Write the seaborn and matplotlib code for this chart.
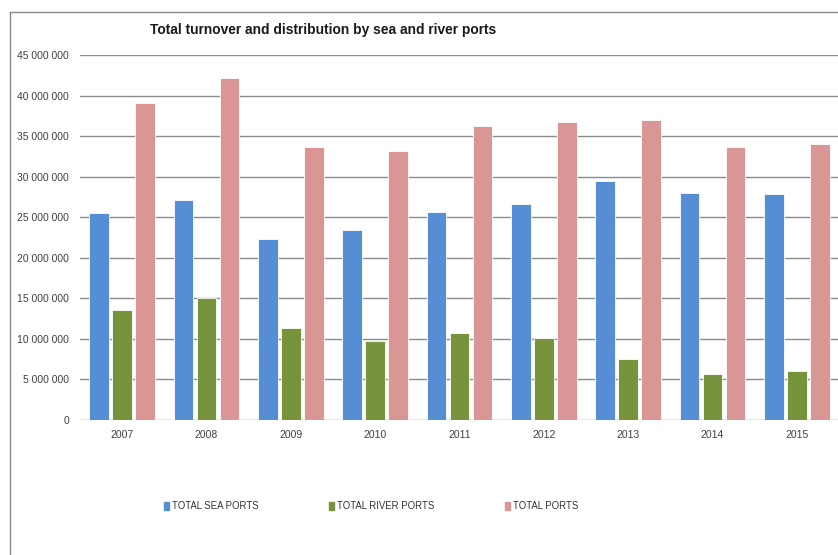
import pandas as pd
import seaborn as sns
import matplotlib.pyplot as plt
from matplotlib.lines import Line2D
from matplotlib.ticker import FuncFormatter, MultipleLocator

years = ['2007', '2008', '2009', '2010', '2011', '2012', '2013', '2014', '2015']
sea_ports = [25500000, 27150000, 22300000, 23400000, 25600000, 26650000, 29500000, 27950000, 27870000]
river_ports = [13560000, 15000000, 11400000, 9780000, 10700000, 10150000, 7480000, 5670000, 6080000]
total_ports = [39050000, 42200000, 33600000, 33200000, 36300000, 36750000, 37000000, 33660000, 34000000]

series_names = ['TOTAL SEA PORTS', 'TOTAL RIVER PORTS', 'TOTAL PORTS']
colors = ['#558ED5', '#77933C', '#D99694']

# long form table for seaborn
df = pd.DataFrame({
    'year': years * 3,
    'series': [series_names[0]] * 9 + [series_names[1]] * 9 + [series_names[2]] * 9,
    'value': sea_ports + river_ports + total_ports,
})

sns.set_style('white')
plt.rcParams['font.family'] = ['Liberation Sans', 'DejaVu Sans']

fig = plt.figure(figsize=(8.38, 5.55), dpi=100)
ax = fig.add_axes([80 / 838, 1 - 420 / 555, 759 / 838, 365 / 555])

sns.barplot(data=df, x='year', y='value', hue='series', palette=colors, saturation=1,
            width=0.82, gap=0.15, edgecolor='white', linewidth=0.6,
            ax=ax, legend=False)

ax.set_ylim(0, 45000000)
ax.set_xlim(-0.5, len(years) - 0.5)
ax.yaxis.set_major_locator(MultipleLocator(5000000))
ax.yaxis.set_major_formatter(FuncFormatter(lambda v, p: f'{v:,.0f}'.replace(',', ' ')))
ax.grid(axis='y', color='#8c8c8c', linewidth=1.0)
ax.set_axisbelow(True)
for s in ax.spines.values():
    s.set_visible(False)
ax.set_xlabel('')
ax.set_ylabel('')
ax.tick_params(axis='both', length=0, labelsize=7.5, colors='#404040', pad=8)
ax.tick_params(axis='x', pad=7)

# outer chart frame
fig.add_artist(Line2D([10 / 838, 10 / 838], [0, 1 - 12 / 555], color='#8a8a8a', linewidth=1.0))
fig.add_artist(Line2D([10 / 838, 1], [1 - 12 / 555, 1 - 12 / 555], color='#8a8a8a', linewidth=1.0))

fig.text(323 / 838, 1 - 30 / 555, 'Total turnover and distribution by sea and river ports',
         ha='center', va='center', fontsize=9.9, fontweight='bold', color='#1a1a1a')

handles = [plt.Rectangle((0, 0), 1, 1, color=c) for c in colors]
fig.legend(handles, series_names, loc='center', bbox_to_anchor=(371 / 838, 1 - 506 / 555),
           ncol=3, frameon=False, fontsize=6.9, handlelength=0.5, handleheight=0.9,
           handletextpad=0.3, columnspacing=7.4, labelcolor='#333333')

fig.savefig('out.png', dpi=100)
